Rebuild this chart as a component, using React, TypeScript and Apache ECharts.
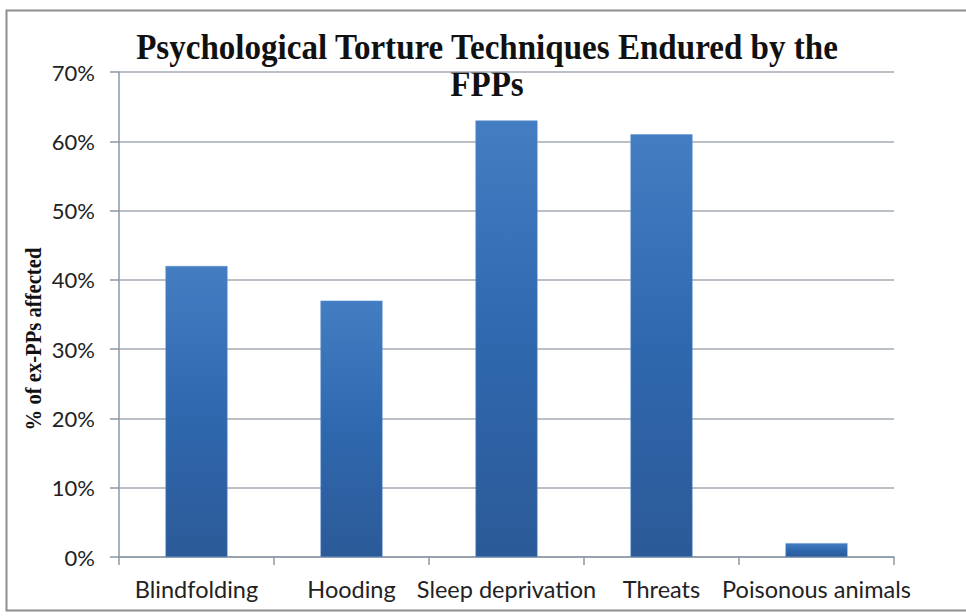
import React, { useEffect, useRef } from "react";
import * as echarts from "echarts";

const categories = ["Blindfolding", "Hooding", "Sleep deprivation", "Threats", "Poisonous animals"];
const values = [42, 37, 63, 61, 2];
const titleLines = ["Psychological Torture Techniques Endured by the", "FPPs"];
const yAxisName = "% of ex-PPs affected";

export default function App() {
  const ref = useRef<HTMLDivElement>(null);
  useEffect(() => {
    if (!ref.current) return;
    const chart = echarts.init(ref.current, null, { renderer: "svg" });
    const labelFont = "Lato, 'Open Sans', sans-serif";
    chart.setOption({
      animation: false,
      backgroundColor: "#ffffff",
      grid: { left: 119, right: 72, top: 72, bottom: 59, containLabel: false },
      xAxis: {
        type: "category",
        data: categories,
        axisLine: { lineStyle: { color: "#8b98a4", width: 1.5 } },
        axisTick: { show: true, length: 8, lineStyle: { color: "#8b98a4", width: 1.5 } },
        axisLabel: { color: "#222", fontSize: 23.5, fontFamily: labelFont, margin: 20, interval: 0 },
      },
      yAxis: {
        type: "value",
        min: 0,
        max: 70,
        interval: 10,
        axisLine: { show: true, lineStyle: { color: "#8b98a4", width: 1.5 } },
        axisTick: { show: true, length: 9, lineStyle: { color: "#8b98a4", width: 1.5 } },
        axisLabel: { color: "#222", fontSize: 22, fontFamily: labelFont, margin: 24, formatter: "{value}%" },
        splitLine: { show: true, lineStyle: { color: "#a3abb3", width: 1.5 } },
      },
      series: [
        {
          type: "bar",
          data: values,
          barWidth: 62,
          itemStyle: {
            color: new echarts.graphic.LinearGradient(0, 0, 0, 1, [
              { offset: 0, color: "#457dc3" },
              { offset: 0.5, color: "#2f68ae" },
              { offset: 1, color: "#2c5a98" },
            ]),
            borderColor: "#5a8fd0",
            borderWidth: 0.5,
          },
        },
      ],
      graphic: [
        {
          type: "rect",
          left: 4,
          top: 8,
          shape: { width: 975, height: 600 },
          style: { fill: "none", stroke: "#8e8e8e", lineWidth: 2 },
          silent: true,
          z: -1,
        },
        {
          type: "text",
          x: 487,
          y: 47,
          scaleX: 0.945,
          style: {
            text: titleLines[0],
            font: "bold 35px 'Liberation Serif', serif",
            fill: "#111",
            align: "center",
            verticalAlign: "middle",
          },
        },
        {
          type: "text",
          x: 487,
          y: 84,
          scaleX: 0.945,
          style: {
            text: titleLines[1],
            font: "bold 35px 'Liberation Serif', serif",
            fill: "#111",
            align: "center",
            verticalAlign: "middle",
          },
        },
        {
          type: "text",
          x: 33,
          y: 339,
          rotation: Math.PI / 2,
          scaleX: 0.86,
          style: {
            text: yAxisName,
            font: "bold 24px 'Liberation Serif', serif",
            fill: "#111",
            align: "center",
            verticalAlign: "middle",
          },
        },
      ],
    });
    return () => chart.dispose();
  }, []);
  return <div ref={ref} style={{ width: 966, height: 616, position: "absolute", left: 0, top: 0 }} />;
}
